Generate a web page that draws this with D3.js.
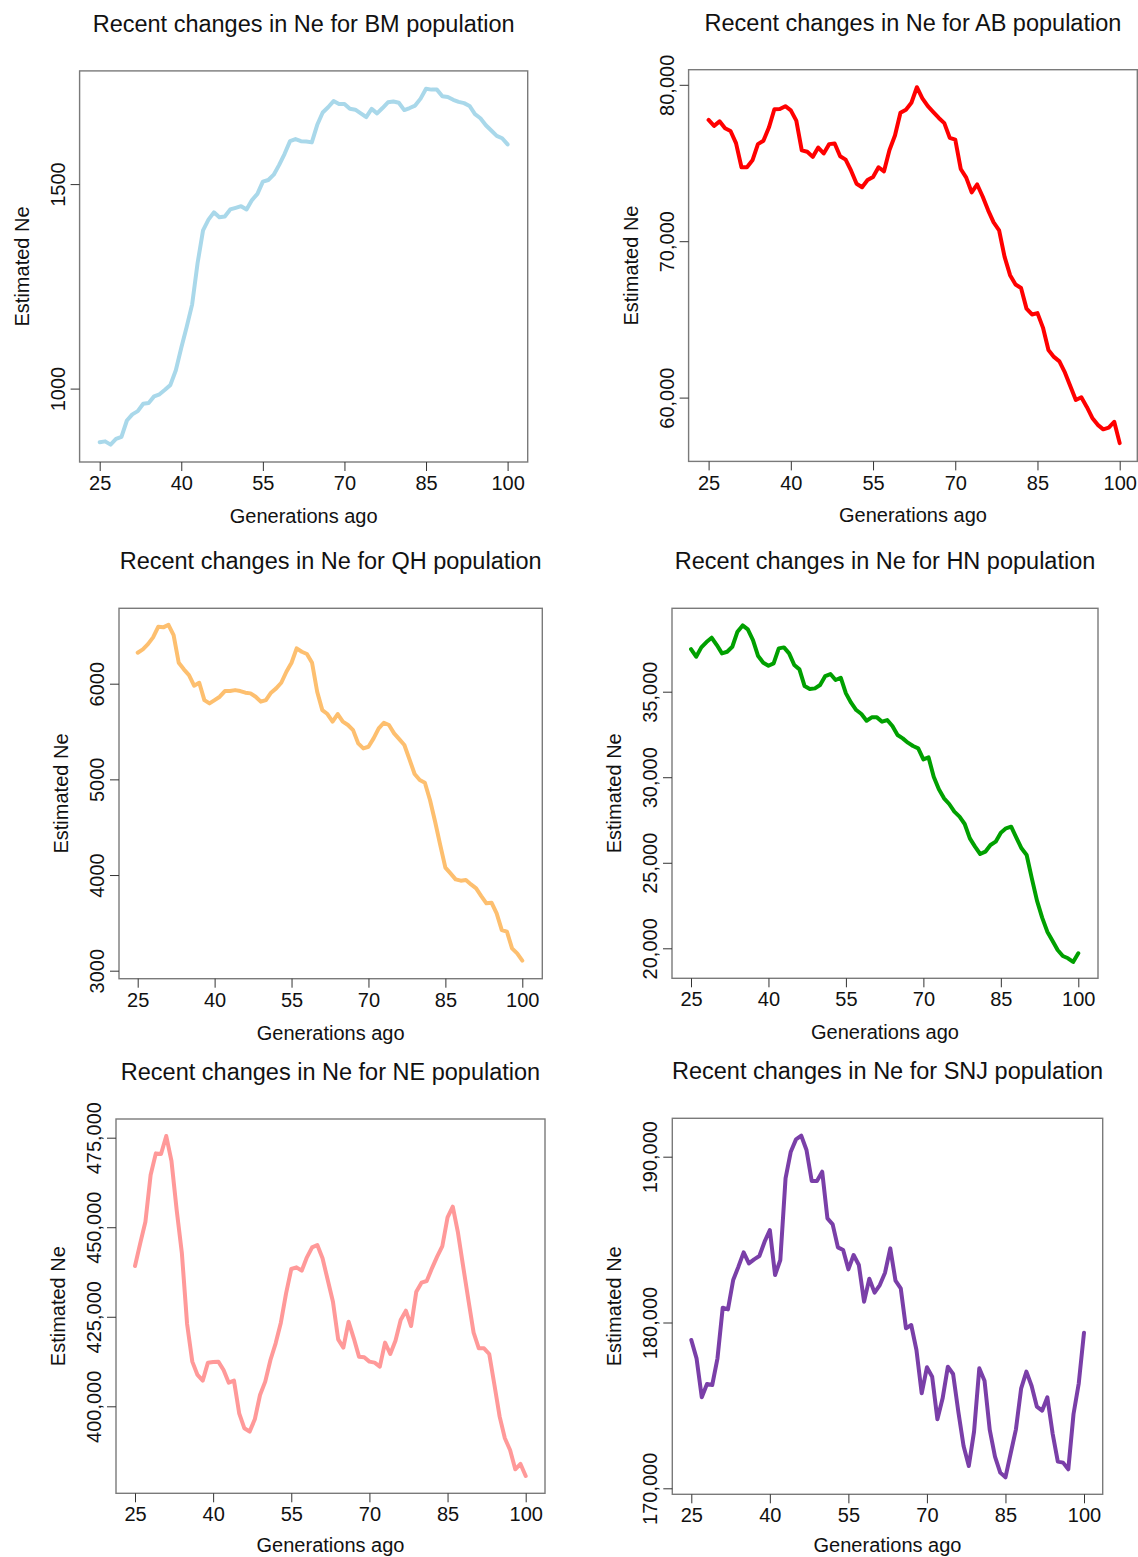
<!DOCTYPE html>
<html>
<head>
<meta charset="utf-8">
<script src="https://cdn.jsdelivr.net/npm/d3@7"></script>
<style>
    body { margin: 0; background: #fff; }
    svg { display: block; font-family: "Liberation Sans", Arial, sans-serif; }
    .tick line { stroke: #333; }
    .tick text { fill: #111; font-size: 20px; }
</style>
</head>
<body>
<div id="body"></div>
<script>
// generations ago (x)
const generations = d3.range(25, 101);
const xTicks = [25, 40, 55, 70, 85, 100];

// estimated Ne, one value per generation (25..100)
const neBM = [869,871,863,877,882,922,937,945,963,965,
    981,986,997,1009,1045,1100,1151,1206,1307,1387,
    1413,1431,1419,1421,1438,1442,1446,1438,1461,1476,
    1506,1510,1523,1547,1574,1605,1610,1605,1604,1602,
    1645,1675,1688,1703,1696,1696,1684,1682,1673,1664,
    1684,1673,1686,1700,1702,1699,1681,1686,1692,1709,
    1733,1731,1731,1715,1713,1706,1701,1698,1691,1671,
    1661,1644,1631,1618,1612,1597];
const neAB = [77750,77375,77662,77221,77045,76273,74729,74729,75170,76207,
    76427,77265,78434,78456,78632,78368,77706,75810,75722,75391,
    75986,75611,76207,76251,75435,75215,74509,73671,73451,73914,
    74112,74729,74465,75832,76758,78213,78412,78853,79845,79139,
    78632,78257,77882,77552,76604,76493,74619,74068,73120,73627,
    72855,71973,71201,70694,68996,67828,67232,67012,65689,65314,
    65402,64476,63043,62602,62315,61610,60728,59846,60022,59405,
    58699,58258,57971,58082,58456,57089];
const neQH = [6324,6359,6414,6484,6595,6589,6616,6508,6219,6150,
    6090,5979,6010,5829,5794,5829,5864,5923,5923,5933,
    5923,5906,5899,5864,5812,5829,5906,5951,6010,6125,
    6219,6369,6334,6310,6219,5916,5724,5683,5603,5683,
    5603,5568,5515,5376,5324,5341,5428,5533,5592,5568,
    5481,5421,5359,5209,5056,4993,4965,4784,4557,4313,
    4077,4017,3955,3941,3948,3902,3861,3780,3704,3711,
    3599,3425,3408,3233,3181,3105];
const neHN = [37493,37045,37590,37902,38155,37727,37240,37337,37629,38506,
    38876,38642,38019,37084,36694,36519,36655,37532,37590,37240,
    36558,36305,35331,35155,35194,35389,35915,36032,35681,35818,
    34902,34357,33928,33694,33305,33500,33500,33246,33344,32993,
    32467,32272,32019,31824,31688,31045,31162,30032,29292,28766,
    28435,27987,27695,27266,26428,25941,25513,25649,26039,26234,
    26760,27013,27110,26467,25844,25454,24091,22786,21792,20974,
    20448,19903,19552,19416,19201,19708];
const neNE = [439174,445501,451550,464577,470625,470439,475464,468485,454806,442710,
    422983,412469,408747,407165,412190,412376,412469,410142,406607,407165,
    398046,393859,392928,396371,403164,406886,412934,417586,423356,431544,
    438337,438802,437872,441594,444385,445036,441315,435266,429218,418704,
    416377,423635,418983,413865,413679,412469,412190,411073,417773,414609,
    418331,424100,426706,422426,432009,434522,434987,438523,441780,444758,
    452759,455737,448479,438988,429683,420564,416191,416191,414609,405955,
    397115,391067,387810,382414,383902,380553];
const neSNJ = [178945,177839,175487,176291,176231,177839,180894,180794,182563,183367,
    184231,183568,183809,184010,184874,185578,182864,183769,188693,190301,
    191045,191266,190402,188532,188532,189095,186281,185919,184532,184372,
    183206,184070,183467,181256,182643,181799,182261,183005,184472,182522,
    182060,179648,179849,178342,175729,177296,176734,174161,175427,177337,
    176894,174623,172553,171347,173417,177236,176492,173518,171910,170945,
    170663,172111,173558,176030,177035,176171,174925,174683,175487,173317,
    171608,171548,171146,174482,176332,179387];

// y tick labels per population
const ticksBM = [1000, 1500];
const ticksAB = [60000, 70000, 80000];
const ticksQH = [3000, 4000, 5000, 6000];
const ticksHN = [20000, 25000, 30000, 35000];
const ticksNE = [400000, 425000, 450000, 475000];
const ticksSNJ = [170000, 180000, 190000];

const panels = [
    {name: 'BM', values: neBM, ticks: ticksBM, color: '#a9d8ea', comma: false,
     box: [79.6, 70.9, 527.7, 462], xr: [99.7, 507.6], yr: [388.6, 184.1]},
    {name: 'AB', values: neAB, ticks: ticksAB, color: '#ff0000', comma: true,
     box: [688.6, 69.7, 1137.3, 461.4], xr: [708.6, 1119.7], yr: [397.6, 84.8]},
    {name: 'QH', values: neQH, ticks: ticksQH, color: '#fdbf6f', comma: false,
     box: [119, 608.3, 542.3, 978.7], xr: [137.7, 522.3], yr: [970.7, 683.7]},
    {name: 'HN', values: neHN, ticks: ticksHN, color: '#00a000', comma: true,
     box: [672, 608.3, 1098, 978.3], xr: [691, 1078.3], yr: [948.3, 691.7]},
    {name: 'NE', values: neNE, ticks: ticksNE, color: '#ff9999', comma: true,
     box: [116, 1119, 545, 1493.3], xr: [135, 525.7], yr: [1406.3, 1137.7]},
    {name: 'SNJ', values: neSNJ, ticks: ticksSNJ, color: '#7a3fa8', comma: true,
     box: [672.3, 1118.3, 1102.7, 1494.3], xr: [691.3, 1084], yr: [1488.3, 1156.7]}
];

const svg = d3.select('#body')
    .append('svg')
    .attr('width', 1138)
    .attr('height', 1557);

panels.forEach(p => {
    const [left, top, right, bottom] = p.box;
    const t = p.ticks;
    const x = d3.scaleLinear().domain([25, 100]).range(p.xr);
    const y = d3.scaleLinear().domain([t[0], t[t.length - 1]]).range(p.yr);
    const g = svg.append('g').attr('class', 'panel');

    // series line
    const line = d3.line()
        .x((d, i) => x(generations[i]))
        .y(d => y(d));
    g.append('path')
        .datum(p.values)
        .attr('fill', 'none')
        .attr('stroke', p.color)
        .attr('stroke-width', 4)
        .attr('stroke-linejoin', 'round')
        .attr('stroke-linecap', 'round')
        .attr('d', line);

    // frame
    g.append('rect')
        .attr('x', left)
        .attr('y', top)
        .attr('width', right - left)
        .attr('height', bottom - top)
        .attr('fill', 'none')
        .attr('stroke', '#7a7a7a')
        .attr('stroke-width', 1.4);

    // x axis
    const xAxis = d3.axisBottom(x).tickValues(xTicks).tickSize(9).tickPadding(5).tickSizeOuter(0);
    g.append('g')
        .attr('transform', `translate(0,${bottom})`)
        .call(xAxis)
        .call(a => a.select('.domain').remove())
        .selectAll('text')
        .attr('font-family', null)
        .attr('font-size', null);

    // y axis, labels rotated like base R
    const fmt = p.comma ? d3.format(',') : d3.format('d');
    const yAxis = d3.axisLeft(y).tickValues(t).tickFormat(fmt).tickSize(9).tickSizeOuter(0);
    g.append('g')
        .attr('transform', `translate(${left},0)`)
        .call(yAxis)
        .call(a => a.select('.domain').remove())
        .selectAll('text')
        .attr('font-family', null)
        .attr('font-size', null)
        .attr('x', null)
        .attr('dy', null)
        .attr('text-anchor', 'middle')
        .attr('transform', 'translate(-15,0) rotate(-90)');

    // titles and labels
    const cx = (left + right) / 2;
    const cy = (top + bottom) / 2;
    g.append('text')
        .attr('x', cx)
        .attr('y', top - 39)
        .attr('text-anchor', 'middle')
        .attr('font-size', '23.5px')
        .attr('fill', '#111')
        .text(`Recent changes in Ne for ${p.name} population`);
    g.append('text')
        .attr('x', cx)
        .attr('y', Math.min(bottom + 61, 1552))
        .attr('text-anchor', 'middle')
        .attr('font-size', '20px')
        .attr('fill', '#111')
        .text('Generations ago');
    g.append('text')
        .attr('transform', `translate(${left - 51},${cy}) rotate(-90)`)
        .attr('text-anchor', 'middle')
        .attr('font-size', '20px')
        .attr('fill', '#111')
        .text('Estimated Ne');
});
</script>
</body>
</html>
